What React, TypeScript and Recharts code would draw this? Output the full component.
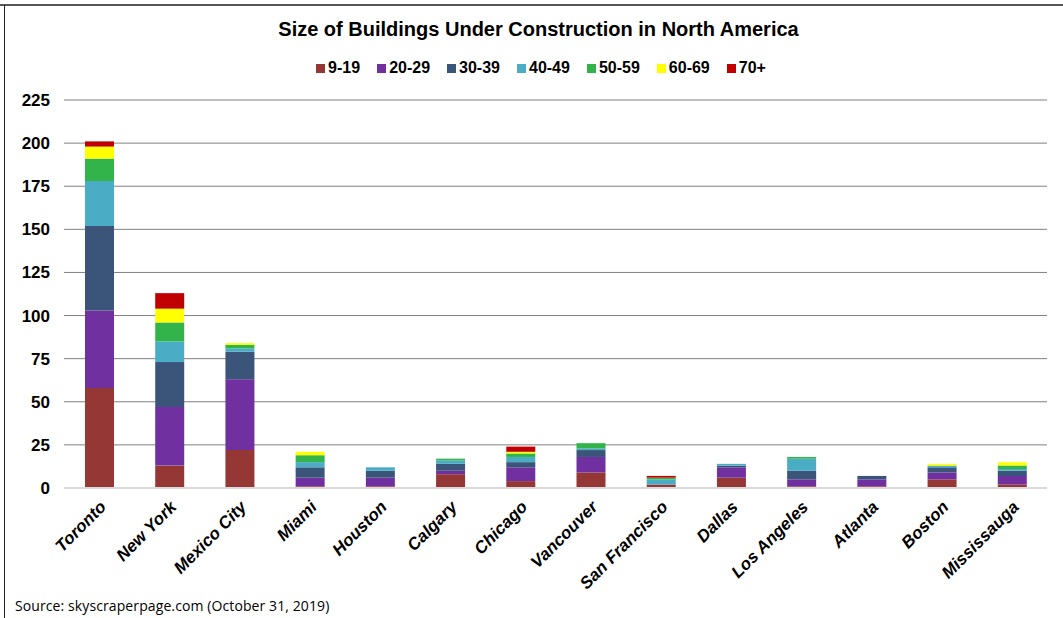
import React from 'react';
import { BarChart, Bar, XAxis, YAxis, CartesianGrid } from 'recharts';

const cities = ['Toronto', 'New York', 'Mexico City', 'Miami', 'Houston', 'Calgary', 'Chicago', 'Vancouver', 'San Francisco', 'Dallas', 'Los Angeles', 'Atlanta', 'Boston', 'Mississauga'];
const s9_19 = [58, 13, 22, 1, 1, 8, 4, 9, 2, 6, 1, 1, 5, 2];
const s20_29 = [45, 34, 41, 5, 5, 2, 8, 9, 0, 6, 4, 4, 4, 5];
const s30_39 = [49, 26, 16, 6, 4, 4, 3, 4, 0, 1, 5, 2, 3, 3];
const s40_49 = [26, 12, 2, 3, 2, 2, 3, 1, 3, 1, 7, 0, 1, 1];
const s50_59 = [13, 11, 2, 4, 0, 1, 2, 3, 1, 0, 1, 0, 0, 2];
const s60_69 = [7, 8, 1, 2, 0, 0, 1, 0, 0, 0, 0, 0, 1, 2];
const s70p = [3, 9, 0, 0, 0, 0, 3, 0, 1, 0, 0, 0, 0, 0];
const yTicks = [0, 25, 50, 75, 100, 125, 150, 175, 200, 225];

const series = [
  { key: 'a', name: '9-19', values: s9_19, color: '#953735' },
  { key: 'b', name: '20-29', values: s20_29, color: '#7030A0' },
  { key: 'c', name: '30-39', values: s30_39, color: '#3A5579' },
  { key: 'd', name: '40-49', values: s40_49, color: '#4BACC6' },
  { key: 'e', name: '50-59', values: s50_59, color: '#33B44A' },
  { key: 'f', name: '60-69', values: s60_69, color: '#FFFF00' },
  { key: 'g', name: '70+', values: s70p, color: '#C00000' },
];

const data = cities.map((city, i) => {
  const row: Record<string, string | number> = { city };
  series.forEach((s) => {
    row[s.key] = s.values[i];
  });
  return row;
});

const FONT = '"Liberation Sans", Arial, sans-serif';

const XTick = (props: any) => {
  const { x, y, payload } = props;
  return (
    <g transform={`translate(${x},${y})`}>
      <text
        x={0}
        y={0}
        transform="translate(8,20) rotate(-45)"
        textAnchor="end"
        fontFamily={FONT}
        fontWeight="bold"
        fontStyle="italic"
        fontSize={17}
        fill="#000"
      >
        {payload.value}
      </text>
    </g>
  );
};

export default function App() {
  return (
    <div style={{ position: 'absolute', left: 0, top: 0, width: 1063, height: 618, background: '#fff', overflow: 'hidden' }}>
      <div style={{ position: 'absolute', left: 0, top: 4, width: 1063, height: 2, background: '#555' }} />
      <div style={{ position: 'absolute', left: 4, top: 5, width: 1, height: 613, background: '#222' }} />
      <div
        style={{
          position: 'absolute',
          left: 7,
          width: 1063,
          top: 18,
          textAlign: 'center',
          fontFamily: FONT,
          fontWeight: 'bold',
          fontSize: 20,
          color: '#000',
        }}
      >
        Size of Buildings Under Construction in North America
      </div>
      <div
        style={{
          position: 'absolute',
          left: 18,
          width: 1063,
          top: 59,
          display: 'flex',
          justifyContent: 'center',
          fontFamily: FONT,
          fontWeight: 'bold',
          fontSize: 16,
          color: '#000',
        }}
      >
        {series.map((s) => (
          <div key={s.key} style={{ display: 'flex', alignItems: 'center', marginRight: 17 }}>
            <div style={{ width: 9, height: 9, background: s.color, marginRight: 3 }} />
            <span>{s.name}</span>
          </div>
        ))}
      </div>
      <div style={{ position: 'absolute', left: 0, top: 0 }}>
        <BarChart
          width={1063}
          height={618}
          data={data}
          margin={{ top: 100, right: 16, bottom: 0, left: 14 }}
          barSize={29}
        >
          <CartesianGrid horizontal={true} vertical={false} stroke="#808080" strokeWidth={1} />
          <XAxis
            dataKey="city"
            interval={0}
            tickLine={false}
            tickSize={0}
            tickMargin={0}
            axisLine={{ stroke: '#d9d9d9', strokeWidth: 2 }}
            tick={<XTick />}
            height={130}
          />
          <YAxis
            domain={[0, 225]}
            ticks={yTicks}
            interval={0}
            width={50}
            axisLine={false}
            tickLine={false}
            tickSize={0}
            tickMargin={14}
            tick={{ fontFamily: FONT, fontWeight: 'bold', fontSize: 17, fill: '#000' }}
          />
          {series.map((s) => (
            <Bar key={s.key} dataKey={s.key} name={s.name} stackId="x" fill={s.color} isAnimationActive={false} />
          ))}
        </BarChart>
      </div>
      <div
        style={{
          position: 'absolute',
          left: 15,
          top: 596,
          fontFamily: '"Open Sans", sans-serif',
          fontSize: 14,
          color: '#000',
          letterSpacing: 0.1,
        }}
      >
        Source: skyscraperpage.com (October 31, 2019)
      </div>
    </div>
  );
}
